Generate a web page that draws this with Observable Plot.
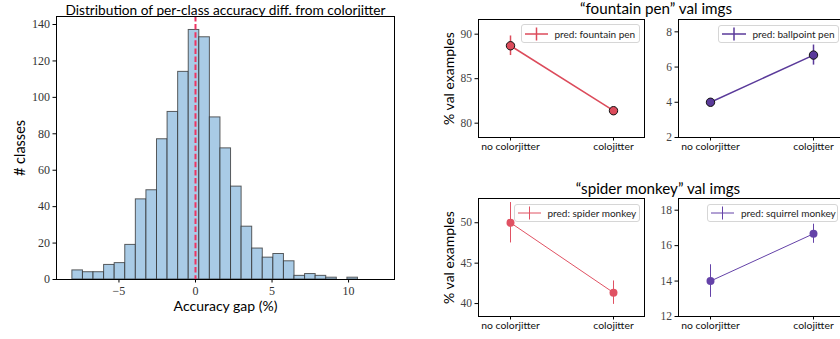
<!DOCTYPE html>
<html>
<head>
<meta charset="utf-8">
<script src="https://cdn.jsdelivr.net/npm/d3@7"></script>
<script src="https://cdn.jsdelivr.net/npm/@observablehq/plot@0.6"></script>
<style>
  html, body { margin: 0; padding: 0; background: #fff; }
  #root { position: relative; width: 840px; height: 339px; overflow: hidden; background: #fff; }
  .title { position: absolute; font-family: Lato, "Liberation Sans", sans-serif; color: #000; white-space: nowrap; transform: translateX(-50%); }
  .legend { position: absolute; box-sizing: border-box; background: rgba(255,255,255,0.85); border: 1px solid #d6d6d6; border-radius: 3px; font-family: Lato, "Liberation Sans", sans-serif; font-size: 10px; color: #222; white-space: nowrap; display: flex; align-items: center; }
  .legend svg { flex: none; }
</style>
</head>
<body>
<div id="root"></div>
<script>
// ---------------- data ----------------
// histogram of per-class accuracy gap (%)
const binStart = -8.043;
const binWidth = 0.691;
const binCounts = [5, 4, 4, 8, 9, 19, 44, 49, 77, 92, 114, 137, 133, 89, 72, 51, 29, 17, 12, 14, 10, 2, 3, 2, 1, 0, 1];
const histXTicks = [-5, 0, 5, 10];
const histYTicks = [0, 20, 40, 60, 80, 100, 120, 140];

const conditions = ["no colorjitter", "colojitter"];

// "fountain pen" val imgs
const fpTitle = "\u201cfountain pen\u201d val imgs";
const fpPredFountain = [88.7, 81.4];
const fpPredFountainErr = [1.1, 0.3];
const fpPredBallpoint = [4.0, 6.68];
const fpPredBallpointErr = [0.15, 0.57];

// "spider monkey" val imgs
const smTitle = "\u201cspider monkey\u201d val imgs";
const smPredSpider = [50.0, 41.35];
const smPredSpiderErr = [2.5, 1.45];
const smPredSquirrel = [14.0, 16.67];
const smPredSquirrelErr = [0.92, 0.54];

const serif = "'Liberation Serif', 'DejaVu Serif', serif";
const sans = "Lato, 'Liberation Sans', sans-serif";

const root = document.getElementById("root");

function place(el, left, top) {
  el.style.position = "absolute";
  el.style.left = left + "px";
  el.style.top = top + "px";
  root.appendChild(el);
  return el;
}

// ---------------- histogram ----------------
const bins = binCounts.map((c, i) => ({x1: binStart + i * binWidth, x2: binStart + (i + 1) * binWidth, count: c}));

const hist = Plot.plot({
  width: 420,
  height: 339,
  marginLeft: 56,
  marginRight: 26,
  marginTop: 16,
  marginBottom: 60,
  style: {background: "transparent", overflow: "visible"},
  x: {domain: [-9.08, 13.0], label: null},
  y: {domain: [0, 144.4], label: null},
  marks: [
    Plot.rectY(bins, {x1: "x1", x2: "x2", y: "count", fill: "#a9cbe6", stroke: "#2b2b2b", strokeOpacity: 0.75, strokeWidth: 1, inset: 0}),
    Plot.ruleX([0], {stroke: "#ee3462", strokeWidth: 2, strokeDasharray: "5.5,2.6"}),
    Plot.frame({stroke: "#000", strokeWidth: 1}),
    Plot.axisY(histYTicks, {tickSize: 3.5, tickPadding: 3, fontSize: 12, fontFamily: serif, fill: "#333", label: null}),
    Plot.axisX(histXTicks, {tickSize: 3.5, tickPadding: 3, fontSize: 12, fontFamily: serif, fill: "#333", label: null, tickFormat: d => d < 0 ? "\u2212" + Math.abs(d) : String(d)}),
    Plot.text(["Distribution of per-class accuracy diff. from colorjitter"], {frameAnchor: "top", lineAnchor: "bottom", dy: -2, fontSize: 13.7, fontFamily: sans, fill: "#000"}),
    Plot.text(["Accuracy gap (%)"], {frameAnchor: "bottom", dy: 31, fontSize: 14, fontFamily: sans, fill: "#000"}),
    Plot.text(["# classes"], {frameAnchor: "left", textAnchor: "middle", dx: -36, rotate: -90, fontSize: 14.5, fontFamily: sans, fill: "#000"})
  ]
});
place(hist, 0, 0);

// ---------------- small panels ----------------
function panel({left, top, marginLeft, domain, ticks, values, errs, color, edge, lw, r, ylabel}) {
  const data = conditions.map((c, i) => ({c, v: values[i], lo: values[i] - errs[i], hi: values[i] + errs[i]}));
  const marks = [
    Plot.frame({stroke: "#000", strokeWidth: 1}),
    Plot.axisY(ticks, {tickSize: 3.5, tickPadding: 3, fontSize: 11.5, fontFamily: serif, fill: "#444", label: null}),
    Plot.axisX(conditions, {tickSize: 3.5, tickPadding: 2, fontSize: 10.4, fontFamily: sans, fill: "#111", label: null}),
    Plot.line(data, {x: "c", y: "v", stroke: color, strokeWidth: lw}),
    Plot.ruleX(data, {x: "c", y1: "lo", y2: "hi", stroke: color, strokeWidth: lw}),
    Plot.dot(data, {x: "c", y: "v", r, fill: color, stroke: edge ? "#111" : "none", strokeWidth: edge ? 1 : 0})
  ];
  if (ylabel) marks.push(Plot.text([ylabel], {frameAnchor: "left", textAnchor: "middle", dx: -29, rotate: -90, fontSize: 14, fontFamily: sans, fill: "#000"}));
  const p = Plot.plot({
    width: marginLeft + 166 + 2,
    height: 160,
    marginLeft,
    marginRight: 2,
    marginTop: 20,
    marginBottom: 22,
    style: {background: "transparent", overflow: "visible"},
    x: {type: "point", domain: conditions, padding: 0.3, label: null},
    y: {domain, label: null},
    marks
  });
  return place(p, left, top);
}

function legend({left, top, width, height, color, lw, label, lineW}) {
  const d = document.createElement("div");
  d.className = "legend";
  d.style.left = left + "px";
  d.style.top = top + "px";
  d.style.width = width + "px";
  d.style.height = height + "px";
  const ns = "http://www.w3.org/2000/svg";
  const s = document.createElementNS(ns, "svg");
  s.setAttribute("width", lineW + 10);
  s.setAttribute("height", 16);
  const h = document.createElementNS(ns, "line");
  h.setAttribute("x1", 3); h.setAttribute("x2", 3 + lineW);
  h.setAttribute("y1", 8); h.setAttribute("y2", 8);
  h.setAttribute("stroke", color); h.setAttribute("stroke-width", lw);
  const v = document.createElementNS(ns, "line");
  v.setAttribute("x1", 3 + lineW / 2); v.setAttribute("x2", 3 + lineW / 2);
  v.setAttribute("y1", 1.5); v.setAttribute("y2", 14.5);
  v.setAttribute("stroke", color); v.setAttribute("stroke-width", lw);
  s.appendChild(h); s.appendChild(v);
  d.appendChild(s);
  const t = document.createElement("span");
  t.textContent = label;
  d.appendChild(t);
  root.appendChild(d);
}

function title(text, cx, cy, size) {
  const t = document.createElement("div");
  t.className = "title";
  t.textContent = text;
  t.style.left = cx + "px";
  t.style.top = (cy - size * 0.6) + "px";
  t.style.fontSize = size + "px";
  t.style.lineHeight = "1";
  root.appendChild(t);
}

// top row
panel({left: 420, top: -0.7, marginLeft: 58, domain: [78.39, 91.65], ticks: [80, 85, 90], values: fpPredFountain, errs: fpPredFountainErr, color: "#dc4b5b", edge: true, lw: 1.5, r: 4.2, ylabel: "% val examples"});
panel({left: 640, top: -0.7, marginLeft: 38, domain: [2, 8.7], ticks: [2, 4, 6, 8], values: fpPredBallpoint, errs: fpPredBallpointErr, color: "#5a3a9a", edge: true, lw: 1.5, r: 4.2});
// bottom row
panel({left: 420, top: 178.3, marginLeft: 58, domain: [38.4, 53.0], ticks: [40, 45, 50], values: smPredSpider, errs: smPredSpiderErr, color: "#e05263", edge: false, lw: 1, r: 4, ylabel: "% val examples"});
panel({left: 640, top: 178.3, marginLeft: 38, domain: [12, 18.66], ticks: [12, 14, 16, 18], values: smPredSquirrel, errs: smPredSquirrelErr, color: "#6442a8", edge: false, lw: 1, r: 4});

title(fpTitle, 656, 10, 15.2);
title(smTitle, 658, 190, 15.2);

legend({left: 520.5, top: 24, width: 119, height: 19, color: "#dc4b5b", lw: 1.5, label: "pred: fountain pen", lineW: 23});
legend({left: 717.5, top: 25, width: 121, height: 18, color: "#5a3a9a", lw: 1.5, label: "pred: ballpoint pen", lineW: 24});
legend({left: 513.5, top: 203.5, width: 126, height: 18.5, color: "#e05263", lw: 1, label: "pred: spider monkey", lineW: 23});
legend({left: 707, top: 203.5, width: 131, height: 18.5, color: "#6442a8", lw: 1, label: "pred: squirrel monkey", lineW: 23});
</script>
</body>
</html>
